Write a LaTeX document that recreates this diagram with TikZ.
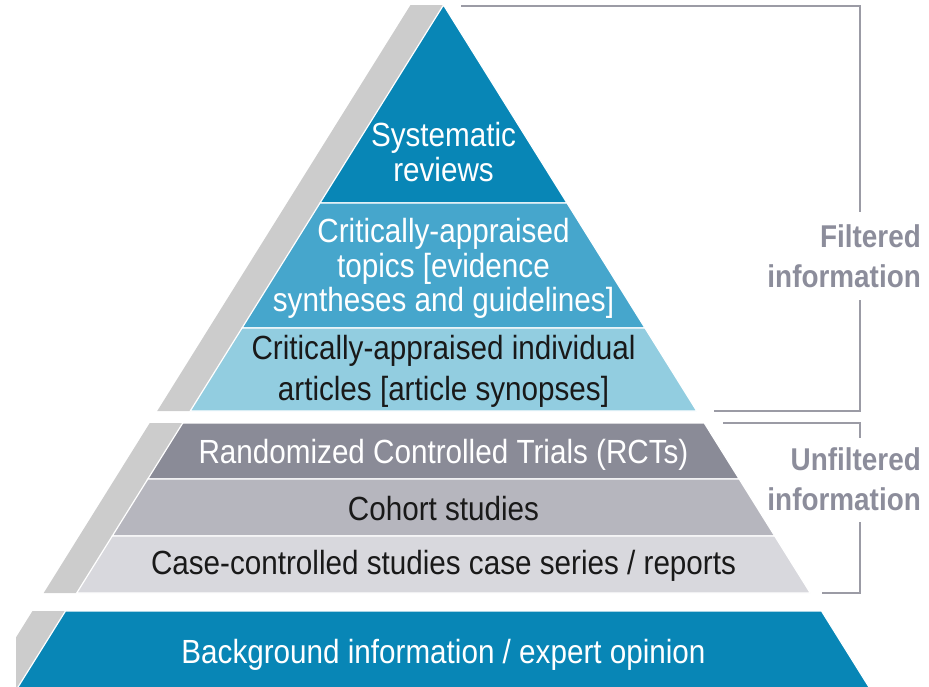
\documentclass[tikz,border=0pt]{standalone}
\usepackage{fontspec}
\setmainfont{Liberation Sans}[FakeStretch=0.885]
\definecolor{pdblue}{RGB}{8,134,182}
\definecolor{pmblue}{RGB}{70,166,204}
\definecolor{plblue}{RGB}{146,205,224}
\definecolor{pdgray}{RGB}{138,139,151}
\definecolor{pmgray}{RGB}{182,182,190}
\definecolor{plgray}{RGB}{216,216,221}
\definecolor{pshadow}{RGB}{204,204,204}
\definecolor{pline}{RGB}{155,155,165}
\definecolor{plabel}{RGB}{140,141,155}
\definecolor{ptext}{RGB}{25,25,25}
\tikzset{
  band/.style={draw=white, line width=1.2pt},
  shade/.style={fill=pshadow},
  txt/.style={inner sep=0pt, align=center, font=\fontsize{33.5}{35}\selectfont},
  wtxt/.style={txt, text=white},
  ktxt/.style={txt, text=ptext},
  lbl/.style={inner sep=0pt, align=right, text=plabel, font=\fontsize{31.5}{40}\selectfont\bfseries},
  brk/.style={draw=pline, line width=2.2pt}
}
\begin{document}
\begin{tikzpicture}[x=1pt, y=-1pt]
\useasboundingbox (0,0) rectangle (929,686);
\foreach \nm/\yy in {t0/5, t1/203, t2/328, t3/411, m0/423, m1/479, m2/536, m3/593, b0/611, b1/690} {
  \coordinate (L\nm) at ({443.5-0.6238*(\yy-5)}, \yy);
  \coordinate (R\nm) at ({443.5+0.6238*(\yy-5)}, \yy);
}
% shadows
\fill[shade] ([xshift=-33pt]Lt0) -- (Lt0) -- (Lt3) -- ([xshift=-33pt]Lt3) -- cycle;
\fill[shade] ([xshift=-33pt]Lm0) -- (Lm0) -- (Lm3) -- ([xshift=-33pt]Lm3) -- cycle;
\begin{scope}
  \clip (16,0) rectangle (929,686);
  \fill[shade] ([xshift=-33pt]Lb0) -- (Lb0) -- (Lb1) -- ([xshift=-33pt]Lb1) -- cycle;
\end{scope}
% bands
\filldraw[band, fill=pdblue] (Lt0) -- (Rt1) -- (Lt1) -- cycle;
\filldraw[band, fill=pmblue] (Lt1) -- (Rt1) -- (Rt2) -- (Lt2) -- cycle;
\filldraw[band, fill=plblue] (Lt2) -- (Rt2) -- (Rt3) -- (Lt3) -- cycle;
\filldraw[band, fill=pdgray] (Lm0) -- (Rm0) -- (Rm1) -- (Lm1) -- cycle;
\filldraw[band, fill=pmgray] (Lm1) -- (Rm1) -- (Rm2) -- (Lm2) -- cycle;
\filldraw[band, fill=plgray] (Lm2) -- (Rm2) -- (Rm3) -- (Lm3) -- cycle;
\filldraw[band, fill=pdblue] (Lb0) -- (Rb0) -- (Rb1) -- (Lb1) -- cycle;
% texts
\node[wtxt] (sys) at (443.5,152.3) {Systematic\\reviews};
\node[wtxt, font=\fontsize{33.5}{34.5}\selectfont] (topics) at (443.5,268.8) {Critically-appraised\\topics [evidence\\syntheses and guidelines]};
\node[ktxt, font=\fontsize{33.5}{41}\selectfont] (indiv) at (443.5,371.3) {Critically-appraised individual\\articles [article synopses]};
\node[wtxt, anchor=base] (rct) at (443.5,463) {Randomized Controlled Trials (RCTs)};
\node[ktxt, anchor=base] (cohort) at (443.5,520) {Cohort studies};
\node[ktxt, anchor=base] (case) at (443.5,574) {Case-controlled studies case series / reports};
\node[wtxt, anchor=base] (back) at (443.5,663) {Background information / expert opinion};
% labels
\node[lbl, anchor=east] (flt) at (921,256.7) {Filtered\\information};
\node[lbl, anchor=east] (uflt) at (921,479.7) {Unfiltered\\information};
% brackets
\coordinate (fa) at (461,6);
\coordinate (fb) at (860,6);
\coordinate (fc) at (860,411);
\coordinate (fd) at (714,411);
\coordinate (ua) at (723,423);
\coordinate (ub) at (860,423);
\coordinate (uc) at (860,593);
\coordinate (ud) at (822,593);
\draw[brk] (fa) -- (fb) -- ([yshift=13pt]flt.north -| fb);
\draw[brk] ([yshift=-12pt]flt.south -| fc) -- (fc) -- (fd);
\draw[brk] (ua) -- (ub) -- ([yshift=10pt]uflt.north -| ub);
\draw[brk] ([yshift=-11pt]uflt.south -| uc) -- (uc) -- (ud);
\end{tikzpicture}
\end{document}
